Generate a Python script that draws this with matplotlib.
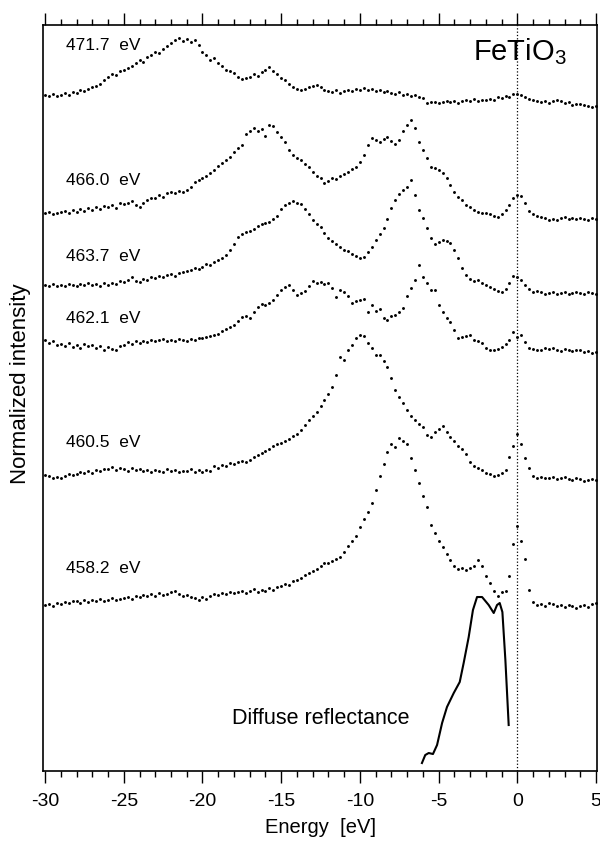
import numpy as np
import matplotlib
matplotlib.use('Agg')
import matplotlib.pyplot as plt
from matplotlib.ticker import MultipleLocator


# Energy grid of the spectra [eV]
energy = np.arange(-30, 5.001, 0.25)

# Excitation energies of the spectra (top to bottom)
labels = ['471.7  eV', '466.0  eV', '463.7  eV', '462.1  eV', '460.5  eV', '458.2  eV']

# Intensities incl. vertical offset (arbitrary units), one row per eV
s4717 = [676, 675, 677, 675, 676, 678, 676, 679, 678, 681, 680, 682,
         684, 685, 687, 691, 694, 697, 696, 700, 701, 703, 705, 708,
         711, 709, 714, 716, 719, 718, 722, 725, 728, 731, 733, 730,
         732, 729, 731, 726, 719, 716, 711, 713, 708, 705, 701, 700,
         698, 694, 692, 693, 694, 697, 695, 699, 701, 704, 700, 697,
         693, 691, 687, 684, 682, 681, 682, 684, 685, 686, 684, 681,
         680, 679, 681, 678, 680, 681, 680, 682, 681, 683, 681, 682,
         680, 681, 679, 680, 678, 677, 679, 676, 677, 675, 676, 674,
         673, 668, 669, 669, 668, 669, 670, 669, 670, 668, 670, 671,
         670, 672, 670, 671, 671, 672, 671, 674, 673, 675, 674, 677,
         677, 676, 674, 672, 671, 670, 669, 670, 668, 670, 671, 670,
         668, 669, 666, 667, 667, 666, 665, 664, 665]

s4660 = [558, 559, 557, 558, 559, 560, 558, 561, 559, 562, 560, 563,
         561, 564, 562, 565, 564, 566, 563, 568, 567, 568, 570, 566,
         564, 568, 571, 573, 573, 576, 574, 578, 579, 578, 580, 579,
         581, 584, 589, 591, 593, 595, 598, 601, 605, 608, 611, 614,
         619, 623, 626, 637, 640, 643, 640, 642, 635, 646, 645, 639,
         634, 629, 621, 616, 613, 611, 607, 604, 599, 595, 593, 588,
         590, 593, 592, 595, 597, 599, 602, 604, 609, 616, 626, 633,
         631, 629, 632, 634, 630, 627, 631, 640, 646, 651, 643, 629,
         621, 613, 604, 603, 601, 598, 593, 586, 579, 574, 571, 566,
         564, 561, 559, 558, 558, 557, 555, 554, 557, 561, 566, 573,
         576, 575, 568, 560, 557, 555, 554, 553, 551, 552, 551, 553,
         554, 552, 553, 552, 553, 552, 551, 553, 552]

s4637 = [486, 485, 487, 485, 486, 485, 487, 486, 485, 487, 486, 488,
         486, 487, 485, 488, 486, 488, 487, 490, 489, 491, 494, 490,
         489, 492, 491, 494, 493, 495, 494, 496, 497, 495, 498, 499,
         500, 501, 503, 502, 504, 507, 506, 509, 511, 513, 516, 521,
         527, 534, 537, 539, 540, 542, 545, 547, 548, 549, 552, 555,
         562, 566, 568, 570, 568, 567, 562, 557, 551, 547, 544, 538,
         533, 530, 527, 524, 521, 520, 517, 515, 513, 514, 519, 524,
         531, 537, 543, 552, 563, 571, 577, 581, 584, 591, 576, 561,
         553, 543, 533, 527, 529, 531, 530, 528, 521, 513, 503, 496,
         492, 490, 491, 488, 486, 484, 482, 480, 479, 482, 488, 495,
         494, 491, 486, 482, 479, 480, 479, 477, 478, 479, 477, 478,
         479, 477, 478, 479, 478, 477, 479, 478, 477]

s4621 = [431, 428, 430, 426, 427, 425, 428, 424, 426, 423, 427, 425,
         426, 423, 425, 421, 424, 422, 421, 425, 426, 429, 427, 430,
         428, 430, 429, 431, 430, 431, 432, 430, 431, 430, 432, 431,
         430, 432, 431, 433, 433, 434, 435, 436, 437, 440, 442, 444,
         446, 450, 454, 455, 453, 459, 464, 467, 466, 468, 471, 476,
         481, 484, 486, 481, 476, 478, 480, 485, 490, 488, 489, 487,
         488, 483, 474, 481, 479, 475, 468, 470, 471, 472, 459, 466,
         460, 462, 453, 451, 455, 456, 459, 463, 475, 483, 491, 506,
         494, 488, 481, 481, 466, 459, 453, 449, 441, 433, 434, 435,
         436, 431, 430, 428, 423, 421, 421, 422, 424, 427, 431, 439,
         434, 436, 429, 423, 422, 421, 421, 423, 422, 423, 421, 420,
         422, 421, 420, 421, 421, 419, 420, 418, 419]

s4605 = [296, 295, 293, 294, 293, 295, 297, 296, 297, 299, 298, 300,
         298, 301, 300, 302, 302, 304, 301, 303, 302, 300, 303, 301,
         302, 300, 301, 299, 301, 300, 299, 302, 300, 301, 299, 300,
         300, 302, 299, 301, 299, 301, 300, 305, 303, 306, 305, 308,
         307, 309, 310, 309, 311, 314, 316, 318, 320, 322, 325, 327,
         328, 330, 332, 335, 337, 341, 346, 351, 355, 359, 365, 371,
         377, 384, 396, 414, 411, 421, 426, 433, 436, 435, 428, 423,
         416, 416, 410, 404, 393, 381, 374, 368, 361, 355, 351, 347,
         344, 336, 334, 339, 342, 345, 339, 334, 330, 325, 322, 317,
         309, 305, 303, 301, 298, 297, 295, 296, 298, 301, 314, 325,
         337, 327, 313, 303, 295, 293, 294, 293, 293, 294, 292, 293,
         294, 292, 291, 293, 292, 290, 291, 292, 291]

s4582 = [166, 167, 165, 168, 167, 169, 168, 170, 170, 168, 171, 169,
         171, 170, 172, 170, 171, 173, 171, 172, 173, 174, 172, 175,
         174, 176, 175, 177, 175, 178, 176, 177, 179, 180, 177, 175,
         176, 174, 173, 171, 174, 172, 175, 177, 176, 178, 177, 179,
         178, 179, 180, 178, 180, 182, 179, 181, 180, 183, 181, 184,
         185, 187, 186, 190, 191, 193, 196, 198, 200, 202, 205, 208,
         208, 210, 212, 214, 219, 225, 230, 235, 244, 252, 259, 268,
         281, 295, 307, 319, 327, 324, 333, 330, 327, 313, 301, 288,
         275, 264, 246, 238, 230, 224, 217, 211, 205, 202, 203, 201,
         203, 205, 211, 205, 195, 188, 180, 175, 179, 180, 195, 227,
         245, 230, 212, 181, 169, 166, 167, 165, 168, 167, 165, 166,
         164, 166, 165, 163, 165, 166, 164, 167, 168]

spectra = [s4717, s4660, s4637, s4621, s4605, s4582]

# Height of the label of each spectrum
label_y = [726, 591, 515, 453, 329, 203]

# Diffuse reflectance curve
dr_energy = [-6.06, -5.85, -5.63, -5.36, -5.10, -4.78, -4.47, -4.04, -3.66,
             -3.41, -3.09, -2.82, -2.56, -2.24, -1.82, -1.50, -1.29, -1.12,
             -0.95, -0.76, -0.55]
dr_value = [8, 16, 18, 17, 26, 48, 64, 78, 89, 108, 134, 161, 174, 174,
            166, 158, 166, 168, 159, 111, 46]


def main():
    plt.rcParams['font.family'] = ['Liberation Sans', 'DejaVu Sans']
    plt.rcParams['mathtext.default'] = 'regular'
    plt.rcParams['axes.unicode_minus'] = False

    fig = plt.figure(figsize=(6, 8.42), dpi=100)
    ax = fig.add_axes([0.0717, 0.0843, 0.9233, 0.886])

    # Spectra as small dots
    for s, lab, ly in zip(spectra, labels, label_y):
        ax.plot(energy, s, 'o', ms=2.1, mew=0, color='black')
        ax.text(-28.7, ly, lab, fontsize=12.5, va='center', ha='left')

    # Diffuse reflectance
    ax.plot(dr_energy, dr_value, '-', lw=1.5, color='black')
    ax.text(-12.5, 53, 'Diffuse reflectance', fontsize=15.5,
            ha='center', va='center')

    # Fermi level
    ax.axvline(0, ls=':', lw=0.9, color='black')

    ax.text(-2.8, 711, 'FeTiO$_3$', fontsize=21, ha='left', va='baseline')

    ax.set_xlim(-30.13, 5.06)
    ax.set_ylim(0, 746)

    ax.xaxis.set_major_locator(MultipleLocator(5))
    ax.xaxis.set_minor_locator(MultipleLocator(1))
    ax.tick_params(axis='x', which='both', direction='out', top=True,
                   bottom=True, labelsize=14, width=1, pad=7)
    ax.tick_params(axis='x', which='major', length=8.5)
    ax.tick_params(axis='x', which='minor', length=4.3)
    ax.set_yticks([])

    for sp in ax.spines.values():
        sp.set_linewidth(1.2)

    ax.set_xlabel('Energy  [eV]', fontsize=14.5, labelpad=6)
    ax.set_ylabel('Normalized intensity', fontsize=16, labelpad=9, y=0.519)

    fig.savefig('out.png', dpi=100)


if __name__ == '__main__':
    main()
